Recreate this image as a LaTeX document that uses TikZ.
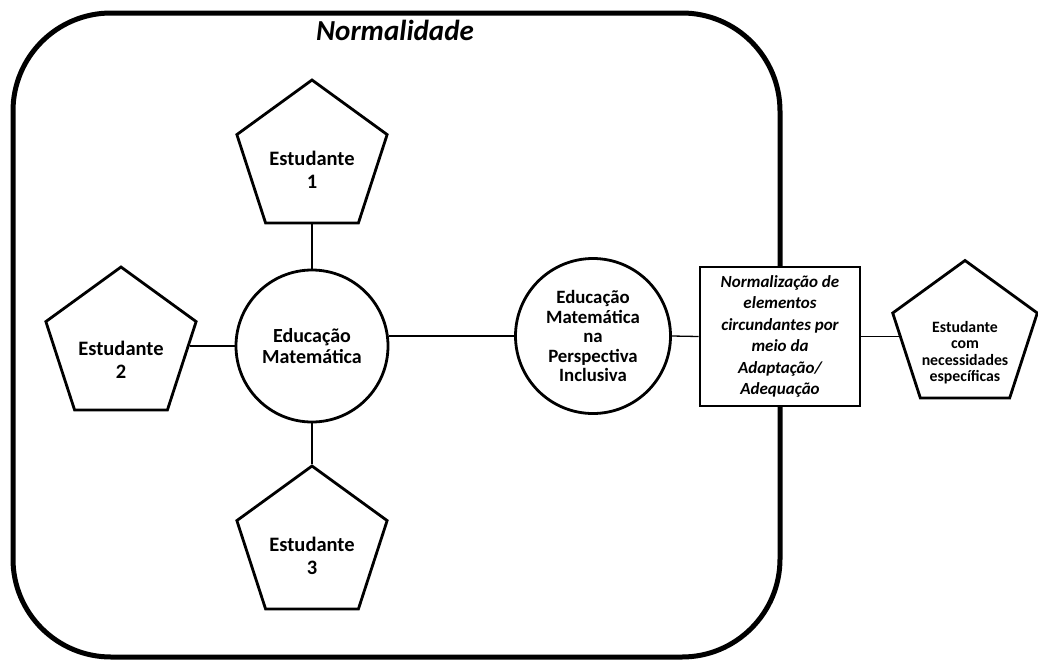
\documentclass[tikz,border=0pt]{standalone}
\usepackage{fontspec}
\setmainfont{Carlito}
\usetikzlibrary{shapes.geometric}
\tikzset{
  pent/.style={regular polygon, regular polygon sides=5, draw, line width=2.8pt, minimum size=158pt, inner sep=0pt},
  pentlabel/.style={align=center, font=\fontsize{20.5}{23}\selectfont\bfseries},
  circ/.style={circle, draw, line width=2.8pt, inner sep=0pt, align=center},
  conn/.style={line width=1.3pt},
}
\begin{document}
\begin{tikzpicture}[x=1pt,y=-1pt]
\useasboundingbox (0,0) rectangle (1038,664);
% frame
\node[draw, line width=5pt, rounded corners=98pt, minimum width=767pt, minimum height=644pt, inner sep=0pt] (frame) at (396.5,335) {};
\node[font=\fontsize{29}{32}\selectfont\bfseries\itshape] (title) at (395,30) {Normalidade};
% central circles
\node[circ, minimum size=152pt, font=\fontsize{20}{20.5}\selectfont\bfseries] (c1) at (312,346) {Educação\\Matemática};
\node[circ, minimum size=155pt, font=\fontsize{18.8}{19.5}\selectfont\bfseries] (c2) at (593,336) {Educação\\Matemática\\na\\Perspectiva\\Inclusiva};
% students
\node[pent, label={[pentlabel, yshift=-11pt]center:Estudante\\1}] (p1) at (312,159) {};
\node[pent, label={[pentlabel, yshift=-14pt]center:Estudante\\2}] (p2) at (121,346) {};
\node[pent, label={[pentlabel, yshift=-11pt]center:Estudante\\3}] (p3) at (312,545) {};
% rectangle
\node[draw, fill=white, line width=2.8pt, minimum width=160pt, minimum height=139pt, inner sep=0pt, align=center, font=\fontsize{17}{21.5}\selectfont\bfseries\itshape] (r) at (780,336.5) {Normalização de\\elementos\\circundantes por\\meio da\\Adaptação/\\Adequação};
% special student
\node[pent, minimum size=152pt, label={[align=center, font=\fontsize{15.8}{16.5}\selectfont\bfseries, yshift=-16pt]center:Estudante\\com\\necessidades\\específicas}] (p4) at (965,336.5) {};
% connectors
\draw[conn] (p1.south) -- (c1.north);
\draw[conn] (p2.east) -- (c1.west);
\draw[conn] (c1.south) -- (p3.north);
\draw[conn] (c2.west -| c1.east) -- (c2.west);
\draw[conn] (c2.east) -- (r.west);
\draw[conn] (r.east) -- (p4.west);
\end{tikzpicture}
\end{document}
